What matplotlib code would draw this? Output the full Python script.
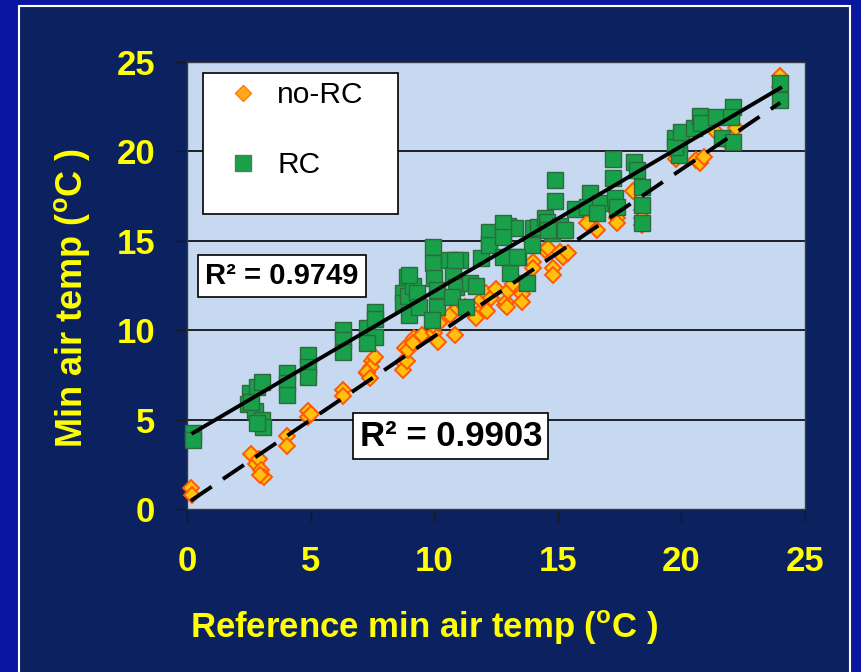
import numpy as np
import matplotlib
matplotlib.use('Agg')
import matplotlib.pyplot as plt
from matplotlib.patches import Rectangle
from matplotlib.lines import Line2D

plt.rcParams['font.family'] = ['Liberation Sans', 'DejaVu Sans']
plt.rcParams['mathtext.fontset'] = 'custom'
plt.rcParams['mathtext.rm'] = 'Liberation Sans'
plt.rcParams['mathtext.bf'] = 'Liberation Sans:bold'

################## data ##################
# no-RC series (diamonds)
norc_x = [0.15, 0.2, 2.6, 2.8, 2.9, 3.0, 3.1, 2.95, 4.05, 4.05, 4.9, 4.9, 5.0,
          6.3, 6.3, 7.3, 7.5, 7.45, 7.6, 7.3, 7.4, 8.75, 8.75, 8.8, 8.9, 8.95,
          9.2, 9.5, 9.15, 10.0, 10.15, 9.95, 10.35, 10.65, 10.85, 10.2, 10.95,
          11.25, 11.45, 11.8, 11.7, 11.9, 12.15, 12.1, 12.3, 12.5, 12.85, 12.9,
          12.95, 13.0, 13.2, 13.55, 13.55, 14.0, 14.0, 14.5, 14.6, 14.8, 14.8,
          15.1, 15.2, 15.4, 16.2, 16.6, 17.3, 17.4, 17.4, 18.05, 18.4, 18.4,
          18.4, 19.8, 20.6, 20.75, 20.9, 21.4, 21.8, 22.2, 24.0, 24.0]
norc_y = [1.2, 0.8, 3.1, 2.5, 2.8, 2.2, 1.8, 1.9, 4.1, 3.5, 5.5, 5.15, 5.3,
          6.65, 6.3, 7.6, 8.3, 7.95, 8.5, 7.65, 7.3, 8.2, 7.8, 9.0, 8.3, 8.9,
          9.55, 9.75, 9.3, 9.85, 9.35, 10.3, 10.75, 10.85, 9.75, 10.4, 11.25,
          11.3, 11.1, 10.95, 10.7, 11.7, 11.1, 12.1, 11.8, 12.3, 11.4, 11.6,
          11.3, 12.2, 12.6, 12.0, 11.6, 13.8, 13.5, 14.5, 14.6, 13.5, 13.1,
          14.4, 14.1, 14.3, 16.0, 15.6, 16.7, 16.3, 16.0, 17.8, 16.7, 16.3,
          15.9, 19.6, 19.5, 19.35, 19.7, 21.1, 20.6, 21.3, 24.2, 23.6]

# RC series (squares)
rc_x = [0.25, 0.25, 2.55, 2.83, 3.03, 2.47, 2.75, 3.03, 3.07, 2.83, 2.6,
        4.05, 4.05, 4.05, 4.9, 4.9, 4.9, 6.3, 6.3, 6.3, 7.3, 7.6, 7.6, 7.6, 7.3,
        8.9, 8.75, 8.75, 8.95, 9.15, 9.3, 9.0, 9.4, 9.0,
        9.95, 9.95, 10.0, 10.1, 10.1, 9.9, 10.6, 10.75, 11.05, 10.9, 10.7, 10.85,
        11.45, 11.7, 11.3, 11.9, 12.2, 12.2, 12.2, 12.8, 13.0, 13.25, 12.8, 13.05,
        13.4, 13.75, 14.0, 14.2, 14.75, 15.2, 12.8, 12.8, 13.95, 14.5, 15.7, 13.35,
        14.9, 14.9, 14.55, 15.1, 14.6, 15.3, 16.3, 16.2, 16.7, 16.6,
        17.25, 17.25, 17.3, 17.4, 18.1, 18.2, 18.4, 18.4, 18.4,
        19.9, 19.9, 19.75, 19.75, 20.0, 20.5, 20.75, 20.8, 21.4, 22.1, 22.0,
        21.65, 22.1, 24.0, 24.0]
rc_y = [4.25, 3.85, 6.5, 6.8, 7.1, 5.9, 5.5, 5.0, 4.6, 4.8, 6.0,
        7.6, 7.05, 6.4, 8.6, 7.95, 7.4, 10.0, 9.45, 8.8, 10.1, 11.0, 10.6, 9.6, 9.3,
        13.0, 12.1, 11.5, 11.9, 12.5, 12.1, 10.85, 11.3, 13.1,
        14.65, 13.75, 12.9, 12.25, 11.3, 10.55, 13.9, 13.1, 13.9, 12.4, 11.85, 13.95,
        12.65, 12.5, 11.3, 14.05, 14.9, 15.5, 14.75, 15.45, 15.8, 15.7, 14.1, 13.2,
        14.1, 12.65, 15.7, 15.75, 15.45, 15.6, 16.0, 15.2, 14.75, 16.3, 16.8, 14.1,
        18.4, 17.2, 16.05, 15.8, 15.6, 15.6, 17.7, 16.9, 17.1, 16.55,
        19.6, 18.5, 17.4, 16.9, 19.4, 18.96, 18.0, 17.0, 16.0,
        20.5, 19.8, 20.75, 20.25, 21.1, 21.3, 22.0, 21.6, 21.9, 22.5, 21.9,
        20.75, 20.5, 23.8, 22.9]

r2_rc = 'R\u00b2 = 0.9749'
r2_norc = 'R\u00b2 = 0.9903'
ticks = [0, 5, 10, 15, 20, 25]

################## linear fits ##################
p_rc = np.polyfit(rc_x, rc_y, 1)
p_norc = np.polyfit(norc_x, norc_y, 1)

################## figure ##################
fig = plt.figure(figsize=(8.62, 6.72), dpi=100)
fig.patch.set_facecolor('#0a16a0')
frame = Rectangle((19/862, -0.01), 831/862, 666/672 + 0.01,
                  transform=fig.transFigure, facecolor='#0b2160',
                  edgecolor='white', linewidth=1.5, zorder=-10)
fig.add_artist(frame)

ax = fig.add_axes([187/862, 163/672, 618/862, 447/672])
ax.set_facecolor('#c6d9f0')
ax.set_xlim(0, 25)
ax.set_ylim(0, 25)

for y in ticks[1:-1]:
    ax.axhline(y, color='black', linewidth=1.2, zorder=1)

ax.plot(norc_x, norc_y, linestyle='none', marker='D', markersize=8.4,
        markerfacecolor='#ffc010', markeredgecolor='#ff5a00',
        markeredgewidth=1.4, zorder=3, clip_on=False)
ax.plot(rc_x, rc_y, linestyle='none', marker='s', markersize=11.5,
        markerfacecolor='#19a04b', markeredgecolor='#2f6a3c',
        markeredgewidth=1.0, zorder=4, clip_on=False)

xs = np.array([min(rc_x), max(rc_x)])
ax.plot(xs, np.polyval(p_rc, xs), color='black', linewidth=2.8, zorder=5)
xs = np.array([min(norc_x), max(norc_x)])
ax.plot(xs, np.polyval(p_norc, xs), color='black', linewidth=2.8,
        dashes=(6.5, 3.5), zorder=5)

ax.set_xticks(ticks)
ax.set_yticks(ticks)
ax.tick_params(axis='both', direction='out', length=9, width=1,
               color='#1a1a1a', labelcolor='#ffff00', labelsize=25)
ax.tick_params(axis='x', pad=17)
ax.tick_params(axis='y', pad=14)
for lab in ax.get_xticklabels() + ax.get_yticklabels():
    lab.set_fontweight('bold')
for s in ax.spines.values():
    s.set_color('#3a3a3a')
    s.set_linewidth(1)

# legend box
ax.add_patch(Rectangle(((203-187)/618, (509-214)/447), 195/618, 141/447,
                       transform=ax.transAxes, facecolor='white',
                       edgecolor='black', linewidth=1.2, zorder=6))
handles = [Line2D([], [], linestyle='none', marker='D', markersize=8.5,
                  markerfacecolor='#ffa820', markeredgecolor='#ff7a00'),
           Line2D([], [], linestyle='none', marker='s', markersize=12,
                  markerfacecolor='#19a04b', markeredgecolor='#5a7a50')]
leg = ax.legend(handles, ['no-RC', 'RC'], loc='upper left',
                bbox_to_anchor=((228-187)/618, (509-81)/447),
                frameon=False, fontsize=21.5, handlelength=1.0,
                handletextpad=0.65, labelspacing=1.42, borderpad=0,
                borderaxespad=0)
leg.set_zorder(7)

ax.text((282-187)/618, (509-276)/447, r2_rc, transform=ax.transAxes,
        fontsize=21, fontweight='bold', ha='center', va='center', zorder=8,
        bbox=dict(boxstyle='square,pad=0.25', facecolor='white',
                  edgecolor='black', linewidth=1.2))
ax.text((451-187)/618, (509-436)/447, r2_norc, transform=ax.transAxes,
        fontsize=25, fontweight='bold', ha='center', va='center', zorder=8,
        bbox=dict(boxstyle='square,pad=0.18', facecolor='white',
                  edgecolor='black', linewidth=1.2))

fig.text(424/862, (672-628)/672, r'Reference min air temp ($^{\mathbf{o}}$C )',
         color='#ffff00', fontsize=25, fontweight='bold',
         ha='center', va='center')
fig.text(72/862, (672-298)/672, r'Min air temp ($^{\mathbf{o}}$C )',
         color='#ffff00', fontsize=26, fontweight='bold', rotation=90,
         ha='center', va='center')

fig.savefig('out.png', dpi=100, facecolor=fig.get_facecolor())
